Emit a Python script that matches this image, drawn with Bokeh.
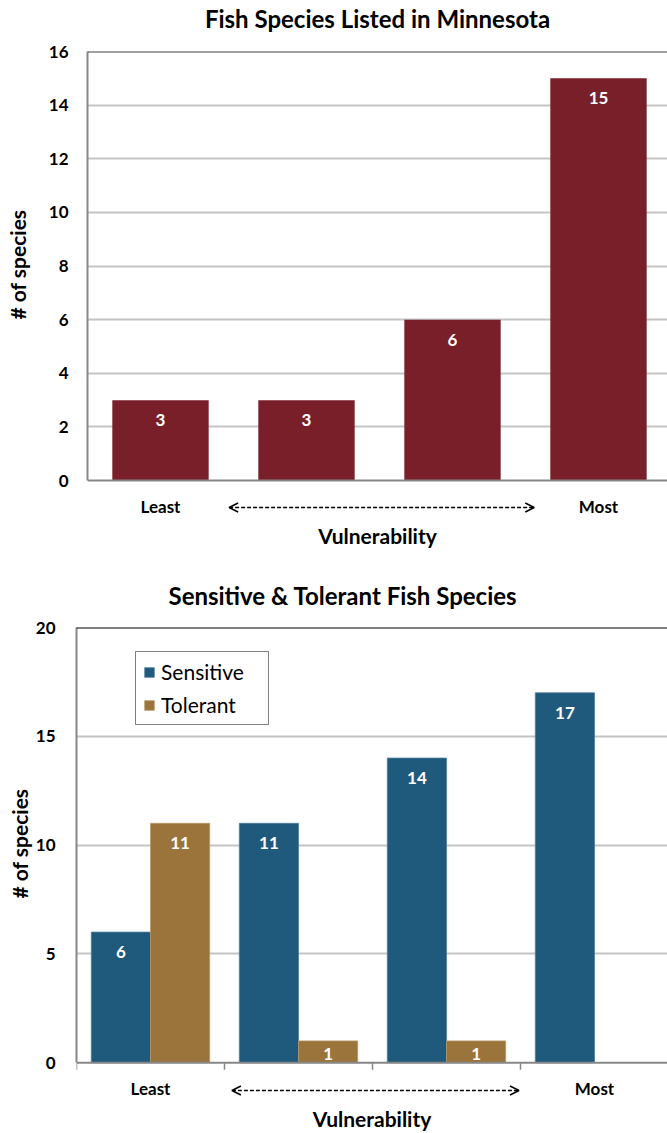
from bokeh.plotting import figure
from bokeh.models import (ColumnDataSource, Range1d, FixedTicker, Span, Arrow,
                          OpenHead, Legend, LegendItem, Title)
from bokeh.core.properties import value
from bokeh.embed import file_html
from bokeh.resources import INLINE

# ---- data -------------------------------------------------------------
levels = [0, 1, 2, 3]
level_names = ["Least", "", "", "Most"]
listed = [3, 3, 6, 15]
sensitive = [6, 11, 14, 17]
tolerant = [11, 1, 1, 0]
y1_ticks = [0, 2, 4, 6, 8, 10, 12, 14, 16]
y2_ticks = [0, 5, 10, 15, 20]
arrow_span_1 = (0.47, 2.56)
arrow_span_2 = (0.55, 2.49)

FONT = "Lato"
MAROON = "#781F2A"
BLUE = "#1F5A7D"
GOLD = "#9B743B"
AXIS_GRAY = "#878787"
GRID_GRAY = "#C4C4C4"
W = 667


def spacer(p, side, font_px, standoff):
    """A blank title (a single no-break space) that pushes the next title outward."""
    if font_px <= 0:
        return
    p.add_layout(Title(text="\u00a0", text_color="white", text_font=FONT,
                       text_font_size=f"{font_px}px", standoff=standoff), side)


def make_panel(height, top, zero_px, bottom_px, left, cat_w, ymax, yticks, top_color,
               title, title_gap, title_align, title_offset,
               ylabel_gap, ylabel_offset, xlabel_standoff):
    """A figure whose frame reaches below y=0 so the axis decorations fit inside."""
    scale = (zero_px - top) / ymax
    ymin = -(bottom_px - zero_px) / scale
    p = figure(width=W, height=height, output_backend="svg", toolbar_location=None,
               x_range=Range1d(-0.5, (W - left) / cat_w - 0.5),
               y_range=Range1d(ymin, ymax),
               min_border_left=left, min_border_right=0, min_border_top=top,
               min_border_bottom=height - bottom_px, title=None)
    p.outline_line_color = None
    p.xgrid.visible = False
    p.ygrid.ticker = FixedTicker(ticks=[t for t in yticks if 0 < t < ymax])
    p.ygrid.grid_line_color = GRID_GRAY
    p.ygrid.grid_line_width = 2

    ya = p.yaxis[0]
    ya.ticker = FixedTicker(ticks=yticks)
    ya.bounds = (0, ymax)
    ya.major_label_text_font = FONT
    ya.major_label_text_font_style = "bold"
    ya.major_label_text_font_size = "17px"
    ya.major_label_text_color = "black"
    ya.major_tick_line_color = None
    ya.minor_tick_line_color = None
    ya.major_tick_out = 0
    ya.minor_tick_out = 0
    ya.axis_line_color = AXIS_GRAY
    ya.axis_line_width = 2

    xa = p.xaxis[0]
    xa.ticker = FixedTicker(ticks=[])
    xa.axis_line_color = None
    xa.major_tick_line_color = None
    xa.minor_tick_line_color = None
    xa.major_tick_out = 0
    xa.minor_tick_out = 0
    xa.axis_label = "Vulnerability"
    xa.axis_label_text_font = FONT
    xa.axis_label_text_font_style = "bold"
    xa.axis_label_text_font_size = "21px"
    xa.axis_label_text_color = "black"
    xa.axis_label_standoff = xlabel_standoff

    # chart title, lifted off the frame by a spacer
    spacer(p, "above", *title_gap)
    p.add_layout(Title(text=title, align=title_align, offset=title_offset, standoff=2,
                       text_font=FONT, text_font_style="bold", text_font_size="24px",
                       text_color="black"), "above")

    # y axis title, centred on the 0..ymax span
    spacer(p, "left", *ylabel_gap)
    p.add_layout(Title(text="# of species", align="left", offset=ylabel_offset, standoff=2,
                       text_font=FONT, text_font_style="bold", text_font_size="21px",
                       text_color="black"), "left")

    # top border line and the category (zero) axis line
    p.add_layout(Span(location=ymax, dimension="width", line_color=top_color, line_width=2))
    p.add_layout(Span(location=0, dimension="width", line_color=AXIS_GRAY, line_width=2))

    # end labels of the vulnerability scale
    named = [(x, t) for x, t in zip(levels, level_names) if t]
    src = ColumnDataSource(dict(x=[x for x, _ in named], y=[0] * len(named),
                                t=[t for _, t in named]))
    p.text(x="x", y="y", text="t", source=src, y_offset=26, text_color="black",
           text_font=value(FONT), text_font_style="bold", text_font_size="17px",
           text_align="center", text_baseline="middle")
    return p, scale


def add_arrow(p, span, y):
    head = dict(size=9, line_color="black", line_width=1.5)
    p.add_layout(Arrow(x_start=span[0], x_end=span[1], y_start=y, y_end=y,
                       line_color="black", line_width=1.5, line_dash="4 2",
                       start=OpenHead(**head), end=OpenHead(**head)))


def value_labels(p, src):
    p.text(x="x", y="top", text="lab", y_offset="off", source=src, text_color="white",
           text_font=value(FONT), text_font_style="bold", text_font_size="17px",
           text_align="center", text_baseline="middle")


def label_offsets(vals, px_per_unit):
    return [min(20, v * px_per_unit / 2 + 2) for v in vals]


# ---- chart 1: listed species ----------------------------------------
H1 = 565
p1, scale1 = make_panel(H1, top=50, zero_px=480, bottom_px=520, left=87, cat_w=146,
                        ymax=16, yticks=y1_ticks, top_color="#404040",
                        title="Fish Species Listed in Minnesota", title_gap=(12, 1),
                        title_align="center", title_offset=0,
                        ylabel_gap=(11, 0), ylabel_offset=201, xlabel_standoff=2)
p1.yaxis[0].major_label_standoff = 19

src1 = ColumnDataSource(dict(x=levels, top=listed, lab=[str(v) for v in listed],
                             off=label_offsets(listed, scale1)))
p1.vbar(x="x", top="top", width=0.66, source=src1, fill_color=MAROON, line_color=None)
value_labels(p1, src1)
add_arrow(p1, arrow_span_1, -27 / scale1)

# ---- chart 2: sensitive vs tolerant ---------------------------------
H2 = 1133 - H1
p2, scale2 = make_panel(H2, top=62, zero_px=499, bottom_px=537, left=76, cat_w=148,
                        ymax=20, yticks=y2_ticks, top_color="black",
                        title="Sensitive & Tolerant Fish Species", title_gap=(12, 0),
                        title_align="left", title_offset=92,
                        ylabel_gap=(0, 0), ylabel_offset=202, xlabel_standoff=5)
p2.yaxis[0].major_label_standoff = 21

# category boundary ticks below the zero line
bounds = [-0.5, 0.5, 1.5, 2.5]
p2.segment(x0=bounds, y0=[0] * 4, x1=bounds, y1=[-7 / scale2] * 4,
           line_color=AXIS_GRAY, line_width=1.5)

sx = [x - 0.2 for x in levels]
tx = [x + 0.2 for x in levels]
src_s = ColumnDataSource(dict(x=sx, top=sensitive, lab=[str(v) for v in sensitive],
                              off=label_offsets(sensitive, scale2)))
keep = [i for i, v in enumerate(tolerant) if v > 0]
src_t = ColumnDataSource(dict(x=[tx[i] for i in keep], top=[tolerant[i] for i in keep],
                              lab=[str(tolerant[i]) for i in keep],
                              off=label_offsets([tolerant[i] for i in keep], scale2)))
r_s = p2.vbar(x="x", top="top", width=0.4, source=src_s, fill_color=BLUE,
              line_color="#4F7E9C", line_width=0.8)
r_t = p2.vbar(x="x", top="top", width=0.4, source=src_t, fill_color=GOLD,
              line_color="#B59768", line_width=0.8)
value_labels(p2, src_s)
value_labels(p2, src_t)
add_arrow(p2, arrow_span_2, -28 / scale2)

legend = Legend(items=[LegendItem(label="Sensitive", renderers=[r_s]),
                       LegendItem(label="Tolerant", renderers=[r_t])],
                location=(59, 375), label_text_font=FONT, label_text_font_size="21px",
                label_text_color="black", glyph_width=12, glyph_height=12,
                label_height=20, label_width=100, spacing=8, padding=7, label_standoff=6,
                border_line_color="black", border_line_width=1,
                background_fill_color="white", background_fill_alpha=1.0, margin=0)
p2.add_layout(legend, "center")

# two independent roots, stacked on the page
open("out.html", "w").write(file_html([p1, p2], INLINE))
